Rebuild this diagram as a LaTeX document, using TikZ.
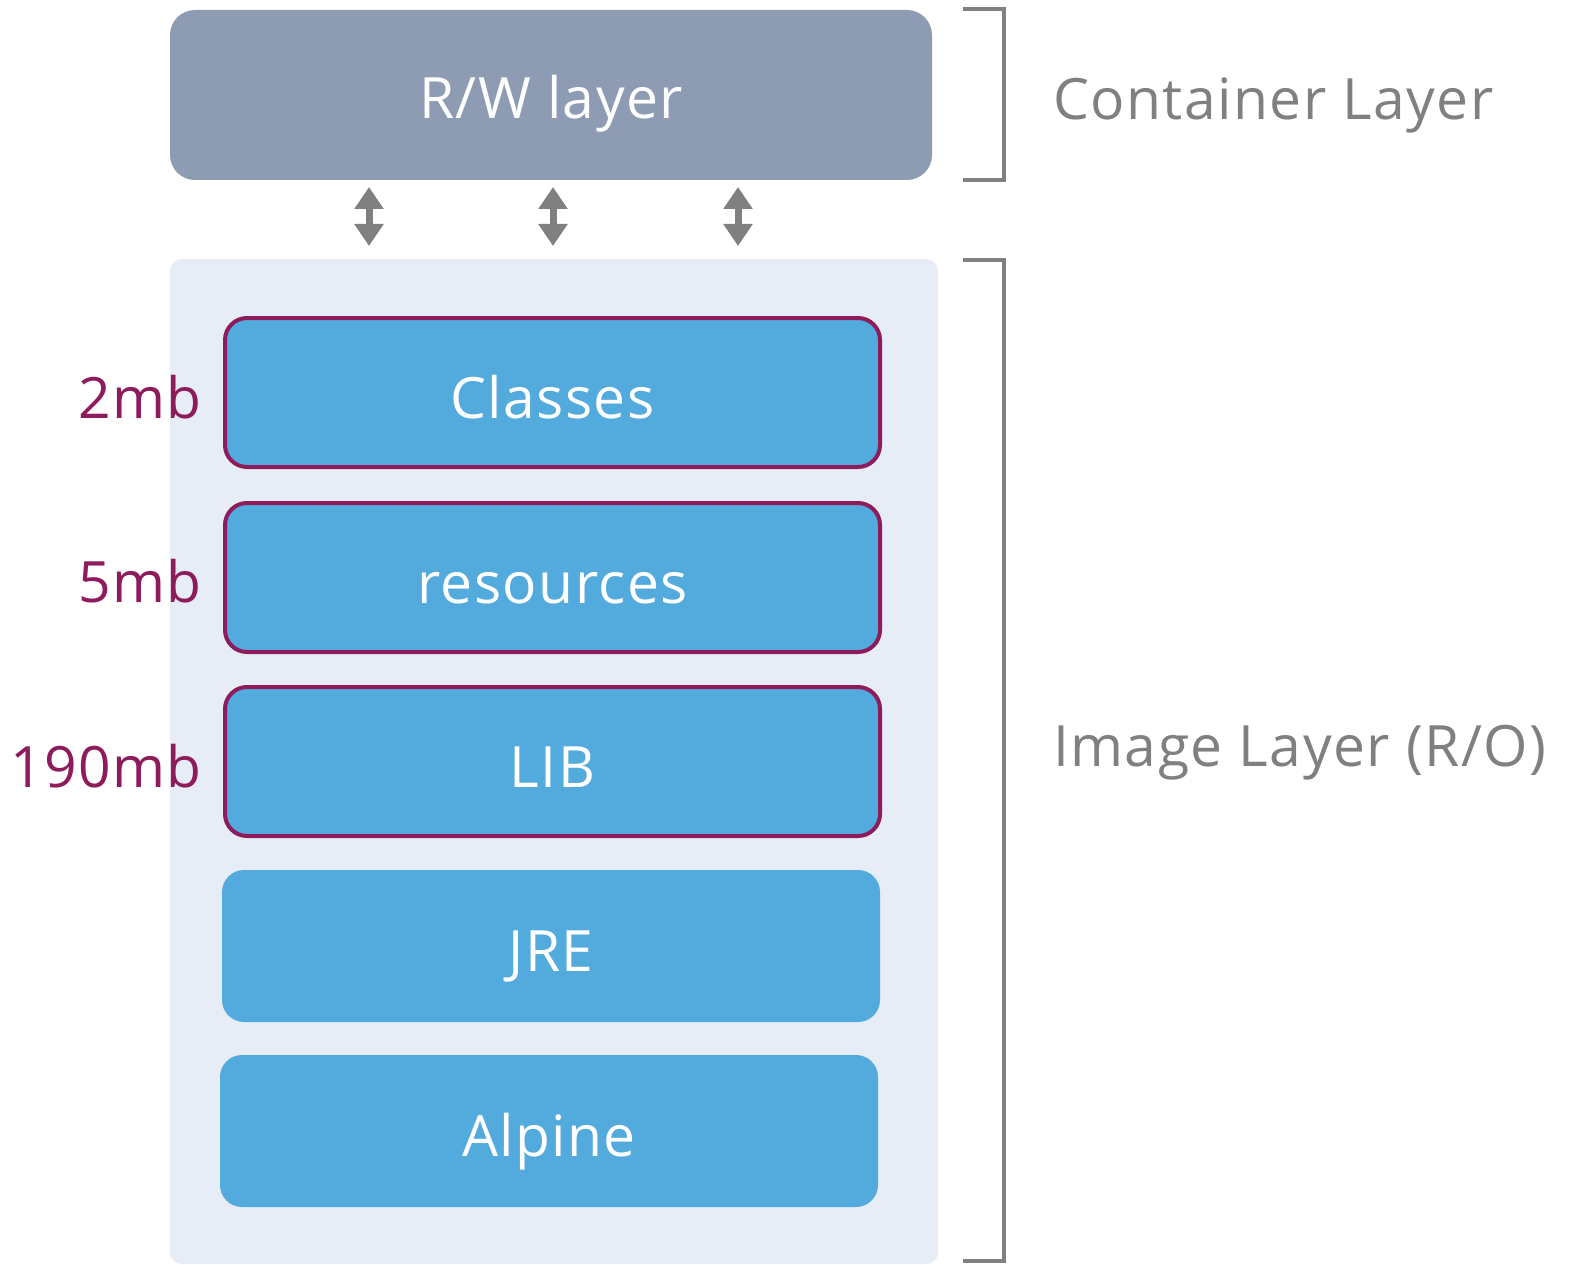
\documentclass[tikz,border=0pt]{standalone}
\usepackage{fontspec}
\setmainfont{Open Sans}[LetterSpace=2.5]
\usetikzlibrary{arrows.meta}
\definecolor{rwgray}{HTML}{8D9CB3}
\definecolor{bgblue}{HTML}{E6EDF6}
\definecolor{layerblue}{HTML}{53AADD}
\definecolor{plum}{HTML}{8E1C5D}
\definecolor{midgray}{HTML}{808080}
\tikzset{
  x=1pt, y=-1pt,
  txt/.style={font=\fontsize{57}{60}\selectfont},
  layerbox/.style={txt, rectangle, rounded corners=22pt, fill=layerblue, text=white,
     minimum width=658pt, minimum height=152pt, inner sep=0pt, text height=61pt, text depth=10pt},
  sized/.style={layerbox, draw=plum, line width=4pt, minimum width=655pt, minimum height=149pt},
  sizelabel/.style={txt, text=plum, anchor=base east, inner sep=0pt},
  sidelabel/.style={txt, text=midgray, anchor=base west, inner sep=0pt},
  bracket/.style={draw=midgray, line width=4pt},
  dblarrow/.style={draw=midgray, line width=7pt, {Triangle[width=28pt,length=22pt]}-{Triangle[width=28pt,length=22pt]}},
}
\begin{document}
\begin{tikzpicture}
\useasboundingbox (0,0) rectangle (1571,1265);
% container layer
\node[txt, rectangle, rounded corners=25pt, fill=rwgray, text=white,
  minimum width=762pt, minimum height=170pt, inner sep=0pt, text height=57pt, text depth=10pt]
  (rw) at (551,95) {R/W layer};
% image background
\path[fill=bgblue, rounded corners=12pt] (170,259) rectangle (938,1264);
\coordinate (bgtl) at (170,259);
% layers
\node[sized] (classes) at (552.5,392.5) {Classes};
\node[sized] (resources) at (552.5,577.5) {resources};
\node[sized] (lib) at (552.5,761.5) {LIB};
\node[layerbox] (jre) at (551,946) {JRE};
\node[layerbox] (alpine) at (549,1131) {Alpine};
% size labels
\node[sizelabel] (s1) at (202,418) {2mb};
\node[sizelabel] (s2) at (202,602) {5mb};
\node[sizelabel] (s3) at (202,787) {190mb};
% arrows
\foreach \i/\xx in {1/369,2/553,3/738}{
  \coordinate (at\i) at (\xx,187);
  \coordinate (ab\i) at (\xx,246);
  \draw[dblarrow] (at\i) -- (ab\i);
}
% brackets
\coordinate (b1a) at (963,9);
\coordinate (b1b) at (1004,9);
\coordinate (b1c) at (1004,180);
\coordinate (b1d) at (963,180);
\draw[bracket] (b1a) -- (b1b) -- (b1c) -- (b1d);
\coordinate (b2a) at (963,260);
\coordinate (b2b) at (1004,260);
\coordinate (b2c) at (1004,1261);
\coordinate (b2d) at (963,1261);
\draw[bracket] (b2a) -- (b2b) -- (b2c) -- (b2d);
% side labels
\node[sidelabel] (cl) at (1053,120) {Container Layer};
\node[sidelabel] (il) at (1053,766) {Image Layer (R/O)};
\end{tikzpicture}
\end{document}
